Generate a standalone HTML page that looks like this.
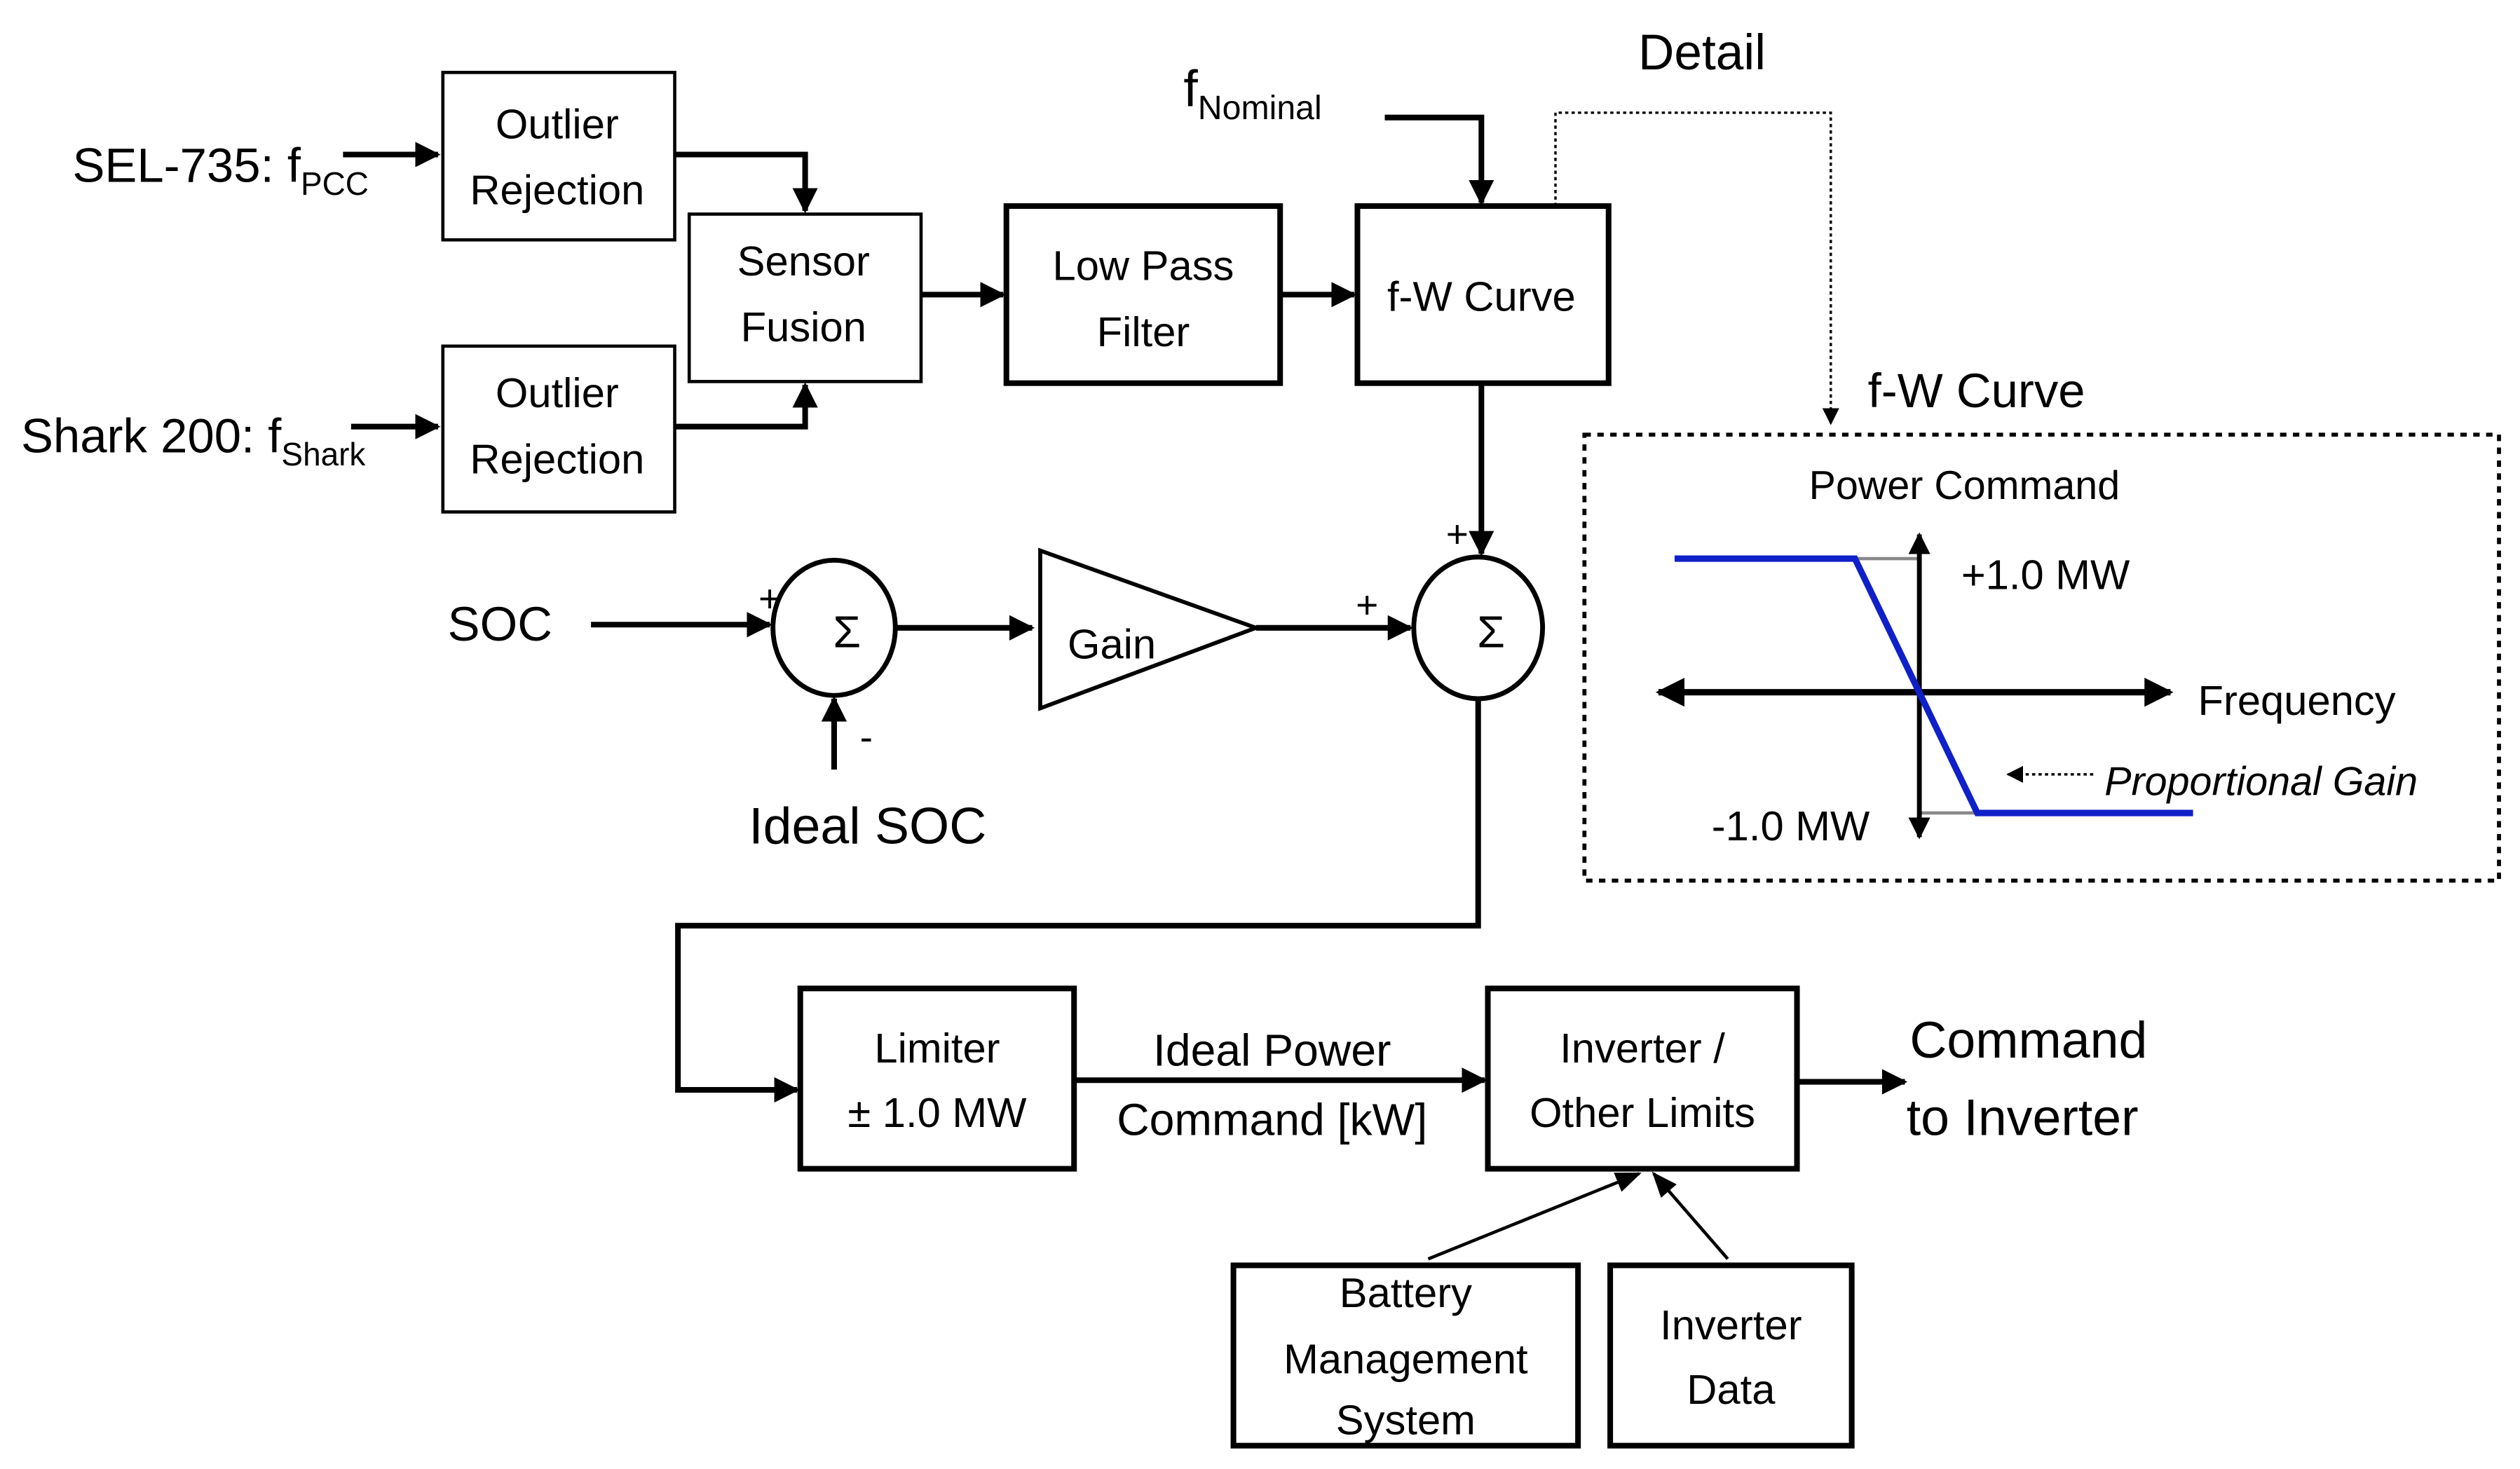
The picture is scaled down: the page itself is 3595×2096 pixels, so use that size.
<!DOCTYPE html>
<html><head><meta charset="utf-8"><style>html,body{margin:0;padding:0;background:#fff}svg{display:block}</style></head>
<body>
<svg width="3595" height="2096" viewBox="0 0 1565 912.5" xmlns="http://www.w3.org/2000/svg" font-family="Liberation Sans, sans-serif" fill="#000">
<defs>
<marker id="a" viewBox="0 0 10 10" refX="9" refY="5" markerWidth="4.5" markerHeight="4.5" orient="auto-start-reverse" markerUnits="strokeWidth"><path d="M0,0L10,5L0,10z"/></marker>
<marker id="t" viewBox="0 0 10 10" refX="9" refY="5" markerWidth="8" markerHeight="8" orient="auto" markerUnits="strokeWidth"><path d="M0,1L10,5L0,9z"/></marker>
<marker id="d" viewBox="0 0 10 10" refX="9" refY="5" markerWidth="7" markerHeight="7" orient="auto" markerUnits="strokeWidth"><path d="M0,0L10,5L0,10z"/></marker>
</defs>
<g fill="none" stroke="#000">
<rect x="275" y="45" width="144" height="104" stroke-width="2"/>
<rect x="275" y="215" width="144" height="103" stroke-width="2"/>
<rect x="428" y="133" width="144" height="104" stroke-width="2"/>
<rect x="625" y="128" width="170" height="110" stroke-width="3.5"/>
<rect x="843" y="128" width="156" height="110" stroke-width="3.5"/>
<rect x="497" y="614" width="170" height="112" stroke-width="3.5"/>
<rect x="924" y="614" width="192" height="112" stroke-width="3.5"/>
<rect x="766" y="786" width="214" height="112" stroke-width="3.5"/>
<rect x="1000" y="786" width="150" height="112" stroke-width="3.5"/>
<ellipse cx="518" cy="390" rx="38" ry="42" stroke-width="3"/>
<ellipse cx="918" cy="390" rx="40" ry="44" stroke-width="3"/>
<path d="M646,342L646,440L780,390Z" stroke-width="2.5"/>
<g stroke-width="3.5" marker-end="url(#a)">
<path d="M213,96H272"/>
<path d="M218,265H272"/>
<path d="M419,96H500V131"/>
<path d="M419,265H500V239"/>
<path d="M572,183H623"/>
<path d="M795,183H841"/>
<path d="M860,73H920V126"/>
<path d="M367,388H478"/>
<path d="M518,478V434"/>
<path d="M557,390H641"/>
<path d="M780,390H876"/>
<path d="M920,238V344"/>
<path d="M918,434V575H421V677H495"/>
<path d="M667,671H922"/>
<path d="M1116,672H1183"/>
</g>
<path d="M887,782L1018,729" stroke-width="2" marker-end="url(#t)"/>
<path d="M1073,782L1027,729" stroke-width="2" marker-end="url(#t)"/>
<path d="M966,128V70H1137V263" stroke-width="1.5" stroke-dasharray="2,2" marker-end="url(#d)"/>
<rect x="984" y="270" width="568" height="277" stroke-width="2.5" stroke-dasharray="4,4"/>
<path d="M1152,347H1192M1228,505H1192" stroke="#888" stroke-width="2"/>
<path d="M1192,520V332" stroke-width="3" marker-end="url(#a)" marker-start="url(#a)"/>
<path d="M1030,430H1348" stroke-width="4" marker-end="url(#a)" marker-start="url(#a)"/>
<path d="M1040,347H1152L1228,505H1362" stroke="#1020c8" stroke-width="4"/>
<path d="M1300,481H1247" stroke-width="1.5" stroke-dasharray="2,2" marker-end="url(#d)"/>
</g>
<g font-size="26" text-anchor="middle">
<text x="346" y="86">Outlier</text><text x="346" y="127">Rejection</text>
<text x="346" y="253">Outlier</text><text x="346" y="294">Rejection</text>
<text x="499" y="171">Sensor</text><text x="499" y="212">Fusion</text>
<text x="710" y="174">Low Pass</text><text x="710" y="215">Filter</text>
<text x="920" y="193">f-W Curve</text>
<text x="582" y="660">Limiter</text><text x="582" y="700">± 1.0 MW</text>
<text x="790" y="662" font-size="28">Ideal Power</text><text x="790" y="705" font-size="28">Command [kW]</text>
<text x="1020" y="660">Inverter /</text><text x="1020" y="700">Other Limits</text>
<text x="873" y="812">Battery</text><text x="873" y="853">Management</text><text x="873" y="891">System</text>
<text x="1075" y="832">Inverter</text><text x="1075" y="872">Data</text>
<text x="1057" y="43" font-size="31">Detail</text>
<text x="1220" y="310" font-size="25">Power Command</text>
<text x="526" y="402" font-size="28">Σ</text>
<text x="926" y="402" font-size="28">Σ</text>
</g>
<g font-size="30">
<text x="45" y="113">SEL-735: f<tspan font-size="20" dy="8">PCC</tspan></text>
<text x="13" y="281">Shark 200: f<tspan font-size="20" dy="8">Shark</tspan></text>
<text x="735" y="66" font-size="32">f<tspan font-size="21" dy="8">Nominal</tspan></text>
<text x="1160" y="253">f-W Curve</text>
<text x="278" y="398">SOC</text>
<text x="465" y="524" font-size="32">Ideal SOC</text>
<text x="1186" y="657" font-size="32">Command</text>
<text x="1184" y="705" font-size="32">to Inverter</text>
<text x="663" y="409" font-size="26">Gain</text>
<text x="471" y="380" font-size="24">+</text>
<text x="534" y="466" font-size="24">-</text>
<text x="842" y="384" font-size="24">+</text>
<text x="898" y="340" font-size="24">+</text>
<text x="1218" y="366" font-size="26">+1.0 MW</text>
<text x="1063" y="522" font-size="26">-1.0 MW</text>
<text x="1365" y="444" font-size="26">Frequency</text>
<text x="1307" y="494" font-size="25" font-style="italic">Proportional Gain</text>
</g>
</svg>
</body></html>
